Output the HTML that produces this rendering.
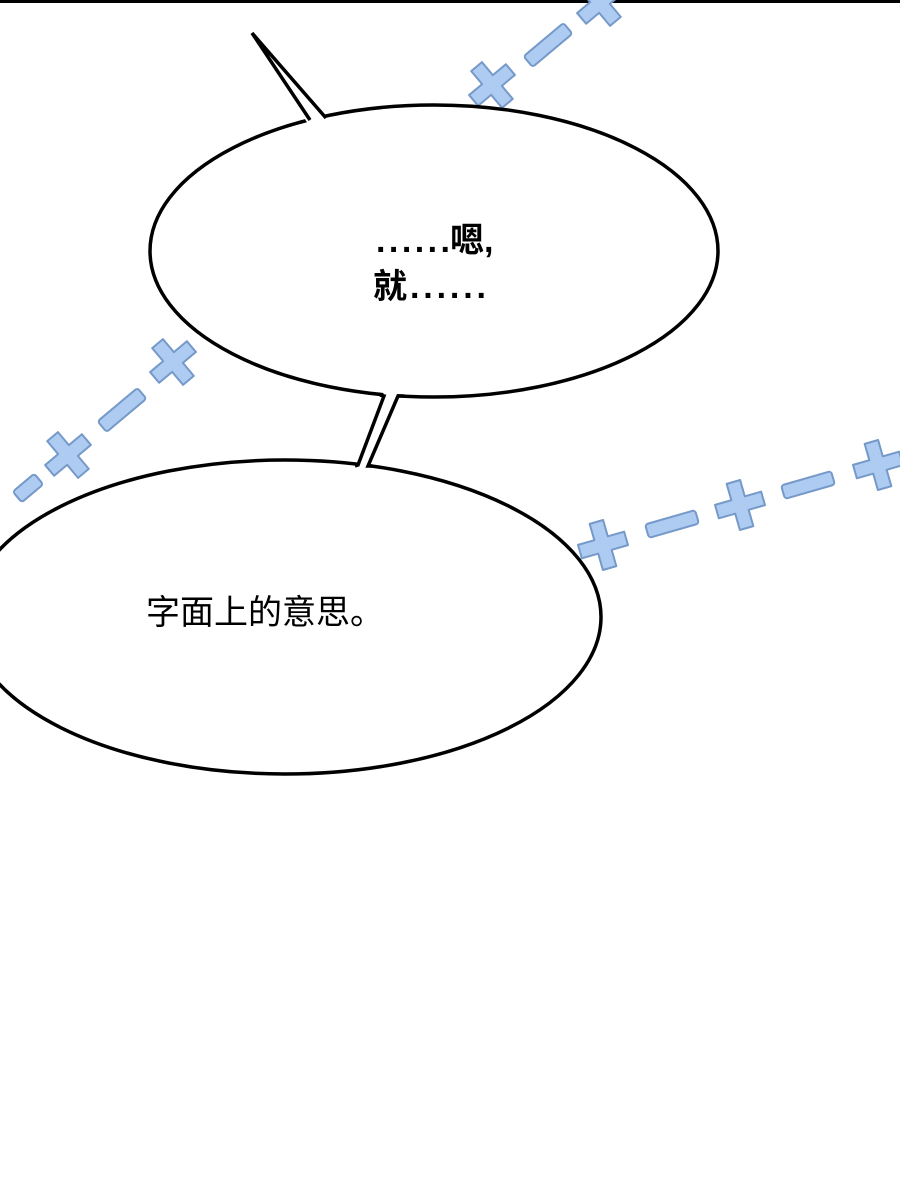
<!DOCTYPE html>
<html><head><meta charset="utf-8"><style>
html,body{margin:0;padding:0;background:#fff;}
svg{display:block;}
text{font-family:"Liberation Sans","Noto Sans CJK SC",sans-serif;fill:#000;}
</style></head><body>
<svg width="900" height="1183" viewBox="0 0 900 1183" xmlns="http://www.w3.org/2000/svg">
<defs>
<g id="cr"><path d="M-7,-24 h14 v17 h17 v14 h-17 v17 h-14 v-17 h-17 v-14 h17 z" fill="#aecbf2" stroke="#7599c8" stroke-width="2" stroke-linejoin="round"/></g>
<g id="da"><rect x="-26" y="-7" width="52" height="14" rx="3" fill="#aecbf2" stroke="#7599c8" stroke-width="2"/></g>
</defs>
<rect x="0" y="0" width="900" height="3" fill="#000"/>
<g transform="translate(173,362) rotate(-40)"><use href="#cr"/></g>
<g transform="translate(122,410) rotate(-40)"><use href="#da"/></g>
<g transform="translate(68,455) rotate(-40)"><use href="#cr"/></g>
<g transform="translate(28,488) rotate(-40)"><rect x="-14" y="-7" width="28" height="14" rx="3" fill="#aecbf2" stroke="#7599c8" stroke-width="2"/></g>
<g transform="translate(492,85) rotate(-40)"><use href="#cr"/></g>
<g transform="translate(548,45) rotate(-40)"><use href="#da"/></g>
<g transform="translate(600,3) rotate(-40)"><use href="#cr"/></g>
<g transform="translate(603,545) rotate(-16)"><use href="#cr"/></g>
<g transform="translate(672,524) rotate(-16)"><use href="#da"/></g>
<g transform="translate(740,505) rotate(-16)"><use href="#cr"/></g>
<g transform="translate(808,485) rotate(-16)"><use href="#da"/></g>
<g transform="translate(878,465) rotate(-16)"><use href="#cr"/></g>
<ellipse cx="434" cy="251" rx="284" ry="146" fill="#fff" stroke="#000" stroke-width="3.5"/>
<polygon points="308,124 252,33 326,120" fill="#fff" stroke="none"/>
<polyline points="310,120 252,33 326,118" fill="none" stroke="#000" stroke-width="3.5" stroke-linejoin="miter"/>
<ellipse cx="285" cy="617" rx="316" ry="157" fill="#fff" stroke="#000" stroke-width="3.5"/>
<polygon points="384,392 358,468 368,468 398,392" fill="#fff"/>
<polyline points="380,395 384,396 358,465 355,466" fill="none" stroke="#000" stroke-width="3.5"/>
<polyline points="404,396 398,396 368,466 372,466" fill="none" stroke="#000" stroke-width="3.5"/>
<text y="252" font-size="34" font-weight="bold"><tspan x="376" textLength="74" lengthAdjust="spacing">......</tspan><tspan x="450">嗯,</tspan></text>
<text y="298" font-size="34" font-weight="bold"><tspan x="373">就</tspan><tspan x="410" textLength="76" lengthAdjust="spacing">......</tspan></text>
<text x="146" y="624" font-size="34">字面上的意思。</text>
</svg>
</body></html>
